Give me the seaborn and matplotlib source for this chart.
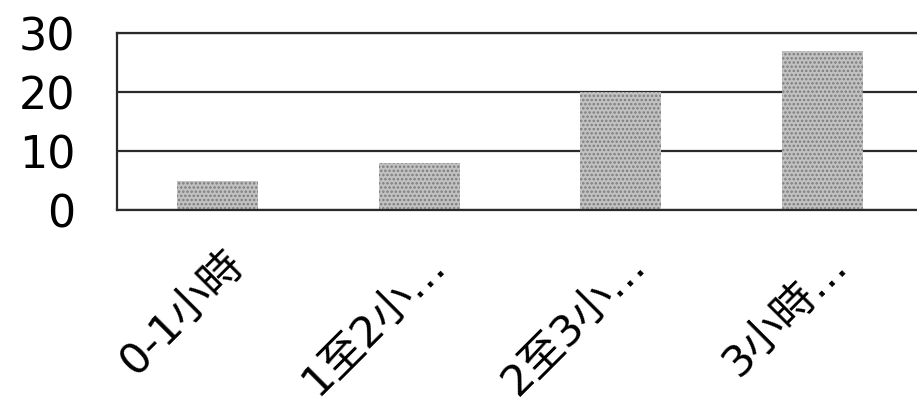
import matplotlib
matplotlib.use("Agg")
import matplotlib.pyplot as plt
import matplotlib.transforms as mtransforms
import seaborn as sns
import pandas as pd

# data
categories = ["0-1小時", "1至2小…", "2至3小…", "3小時…"]
values = [5, 8, 20, 27]
y_ticks = [0, 10, 20, 30]

sns.set_style("white")
plt.rcParams['font.family'] = ['DejaVu Sans', 'Noto Sans CJK TC']
plt.rcParams['hatch.linewidth'] = 1.2
plt.rcParams['text.color'] = 'black'
plt.rcParams['xtick.color'] = 'black'
plt.rcParams['ytick.color'] = 'black'

df = pd.DataFrame({"cat": categories, "val": values})

fig = plt.figure(figsize=(9.17, 4.04), dpi=100)
ax = fig.add_axes([117 / 917, 194 / 404, 806 / 917, 177 / 404])

sns.barplot(data=df, x="cat", y="val", ax=ax, width=0.4,
            color="#c2c2c2", saturation=1, edgecolor="#7c7c7c",
            linewidth=0, hatch="....")

ax.set_xlim(-0.5, 3.5)
ax.set_ylim(0, 30)
ax.set_yticks(y_ticks)
ax.yaxis.grid(True, color="#2a2a2a", linewidth=1.6)
ax.set_axisbelow(True)
ax.set_xlabel("")
ax.set_ylabel("")

for side in ["left", "top", "bottom", "right"]:
    ax.spines[side].set_color("#2a2a2a")
    ax.spines[side].set_linewidth(1.6)

ax.tick_params(axis="y", length=0, pad=30, labelsize=32, labelcolor="black")
ax.tick_params(axis="x", length=0, pad=24, labelsize=31, labelcolor="black")

offset = mtransforms.ScaledTranslation(0.04, 0, fig.dpi_scale_trans)
for lab in ax.get_xticklabels():
    lab.set_rotation(45)
    lab.set_ha("right")
    lab.set_va("top")
    lab.set_rotation_mode("anchor")
    lab.set_transform(lab.get_transform() + offset)

fig.savefig("out.png", dpi=100)
